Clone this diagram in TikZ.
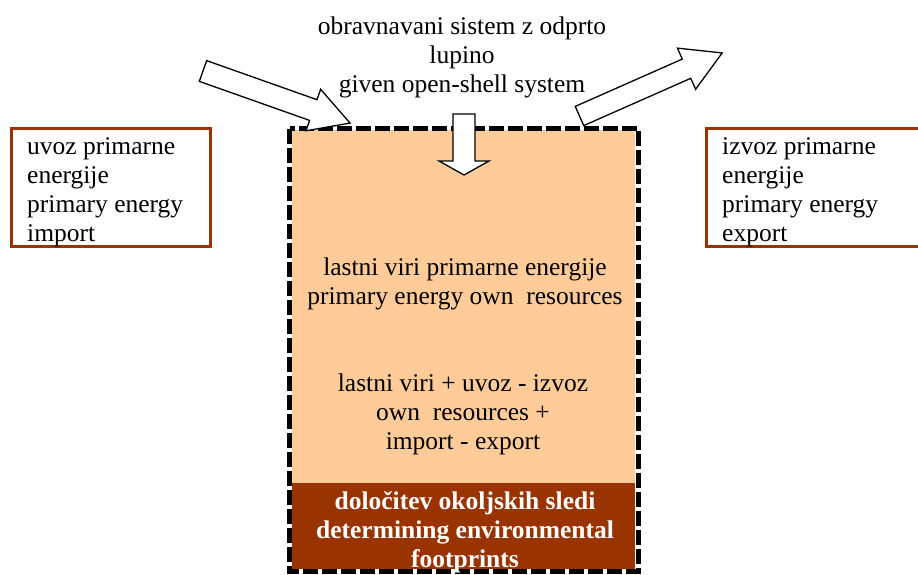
\documentclass[tikz,border=0pt]{standalone}
\usepackage{fontspec}
\setmainfont{Liberation Serif}
\definecolor{peach}{RGB}{255,204,153}
\definecolor{rust}{RGB}{153,51,0}
% tail/angle/length/shaft/head width/head length
\def\blockarrows{{(203,71)/-19.5/156/22/44/39}, {(579.5,116)/23.85/156/21/45/39}, {(464,114)/-90/61/22/50/14}}
\tikzstyle{txt}=[font=\fontsize{25.5}{29}\selectfont, inner sep=0pt]
\tikzstyle{side box}=[draw=rust, line width=3pt]
\tikzstyle{shell}=[draw=black, line width=5pt, dash pattern=on 15pt off 4pt]
\tikzstyle{block arrow}=[draw=black, fill=white, line width=1.3pt, line join=miter]

\begin{document}
\begin{tikzpicture}[x=1pt, y=-1pt]
  \useasboundingbox (0,0) rectangle (918,574);

  % the open-shell system
  \fill[peach] (292,130) rectangle (635,483);
  \fill[rust] (292,483) rectangle (635,568.5);
  \path[shell] (289.5,128.5) rectangle (638,571);

  % import and export boxes
  \path[side box] (11.5,128.5) rectangle (210.5,246.5);
  \path[side box] (706.5,128.5) rectangle (925,246.5);

  % block arrows
  \foreach \tail/\ang/\len/\shaft/\head/\tip in \blockarrows {
    \path[block arrow, shift={\tail}, rotate=\ang]
      (0,{\shaft/2}) -- ({\len-\tip},{\shaft/2}) -- ({\len-\tip},{\head/2})
      -- (\len,0) -- ({\len-\tip},{-\head/2}) -- ({\len-\tip},{-\shaft/2})
      -- (0,{-\shaft/2}) -- cycle;
  }

  % texts
  \node[txt, anchor=north, align=center] (title) at (462,17)
    {obravnavani sistem z odprto\\lupino\\given open-shell system};
  \node[txt, anchor=north west, align=left] (import) at (27,137)
    {uvoz primarne\\energije\\primary energy\\import};
  \node[txt, anchor=north west, align=left] (export) at (722,137)
    {izvoz primarne\\energije\\primary energy\\export};
  \node[txt, anchor=north, align=center] (own) at (465,257.5)
    {lastni viri primarne energije\\primary energy own~ resources};
  \node[txt, anchor=north, align=center] (balance) at (463,373.5)
    {lastni viri + uvoz - izvoz\\own~ resources +\\import - export};
  \node[txt, anchor=north, align=center, text=white, font=\fontsize{25.5}{29}\selectfont\bfseries] (footprint) at (465,491)
    {določitev okoljskih sledi\\determining environmental\\footprints};
\end{tikzpicture}
\end{document}
